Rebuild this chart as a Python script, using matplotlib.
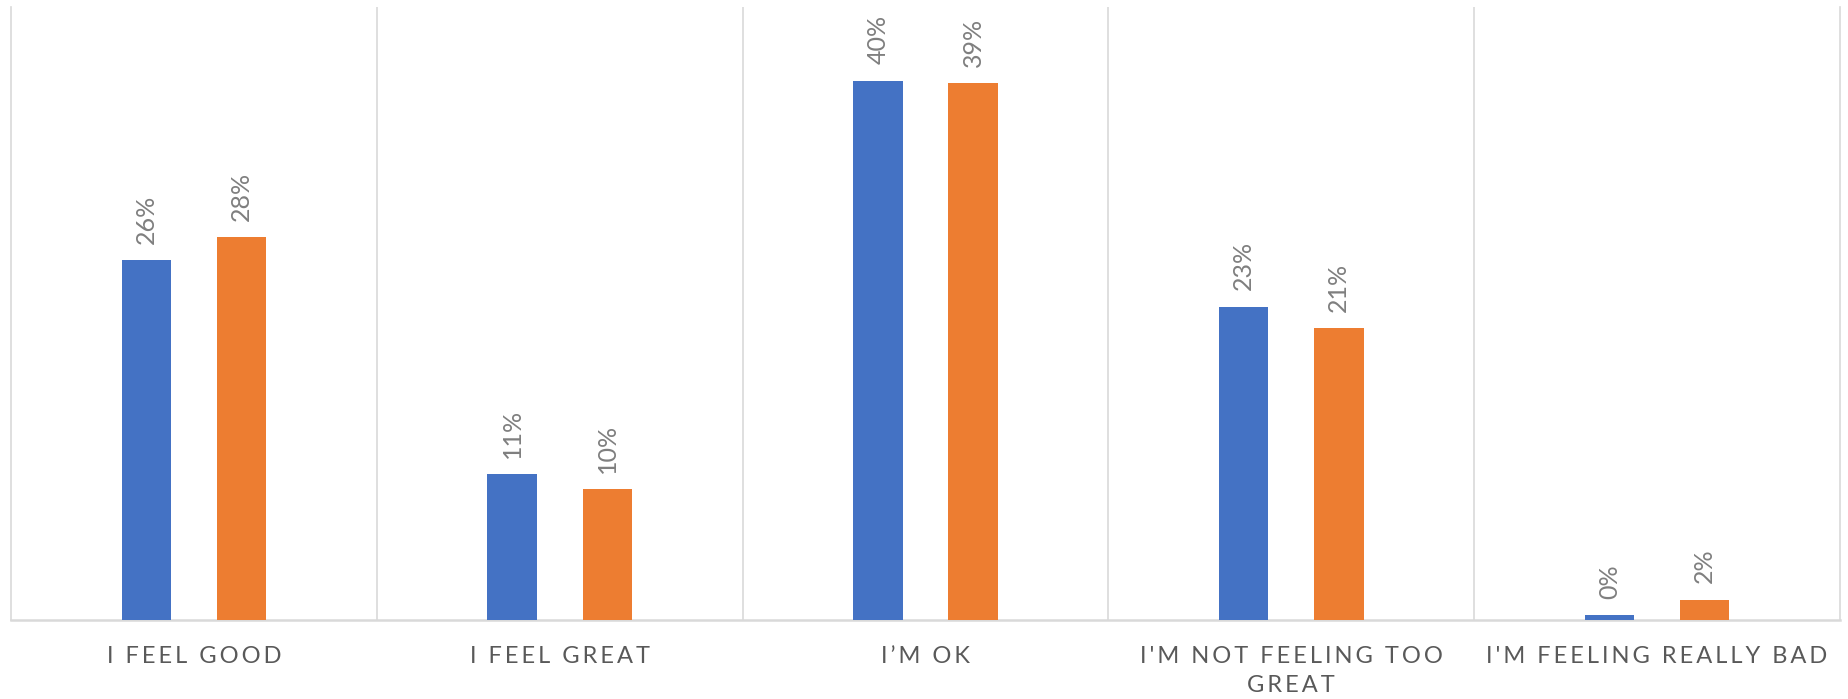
import numpy as np
import matplotlib.pyplot as plt

plt.rcParams['font.family'] = ['Lato', 'DejaVu Sans']

categories = ['I FEEL GOOD', 'I FEEL GREAT', 'I\u2019M OK',
              "I'M NOT FEELING TOO\nGREAT", "I'M FEELING REALLY BAD"]
series_a = [26.4, 10.7, 39.6, 23.0, 0.35]
series_b = [28.1, 9.6, 39.4, 21.4, 1.5]

blue = '#4472c4'
orange = '#ed7d31'
grid_col = '#d9d9d9'


def spaced(s):
    # fake Excel character spacing with thin spaces
    return '\n'.join('\u2009'.join(line) for line in s.split('\n'))


fig = plt.figure(figsize=(18.48, 6.99), dpi=100)
ax = fig.add_axes([11 / 1848, 1 - 620 / 699, 1829 / 1848, 613 / 699])

x = np.arange(len(categories))
w = 0.135
off = 0.13
bars_a = ax.bar(x - off, series_a, w, color=blue, zorder=3)
bars_b = ax.bar(x + off, series_b, w, color=orange, zorder=3)

for bars, vals in [(bars_a, series_a), (bars_b, series_b)]:
    for b, v in zip(bars, vals):
        ax.annotate(f'{v:.0f}%', (b.get_x() + b.get_width() / 2, v),
                    xytext=(0, 12), textcoords='offset points',
                    rotation=90, ha='center', va='bottom',
                    fontsize=18, color='#7f7f7f')

for xv in np.arange(0.5, len(categories) - 0.5, 1):
    ax.axvline(xv, color=grid_col, lw=1.2, zorder=1)

ax.set_xlim(-0.5, len(categories) - 0.5)
ax.set_ylim(0, 45)
ax.set_yticks([])
ax.set_xticks(x)
ax.set_xticklabels([spaced(c) for c in categories], fontsize=17,
                   color='#595959', linespacing=1.45)
ax.tick_params(axis='x', length=0, pad=19)

ax.spines['top'].set_visible(False)
for s in ['left', 'right', 'bottom']:
    ax.spines[s].set_color(grid_col)
    ax.spines[s].set_linewidth(1.2)
ax.spines['bottom'].set_linewidth(1.8)

plt.savefig('out.png', dpi=100)
